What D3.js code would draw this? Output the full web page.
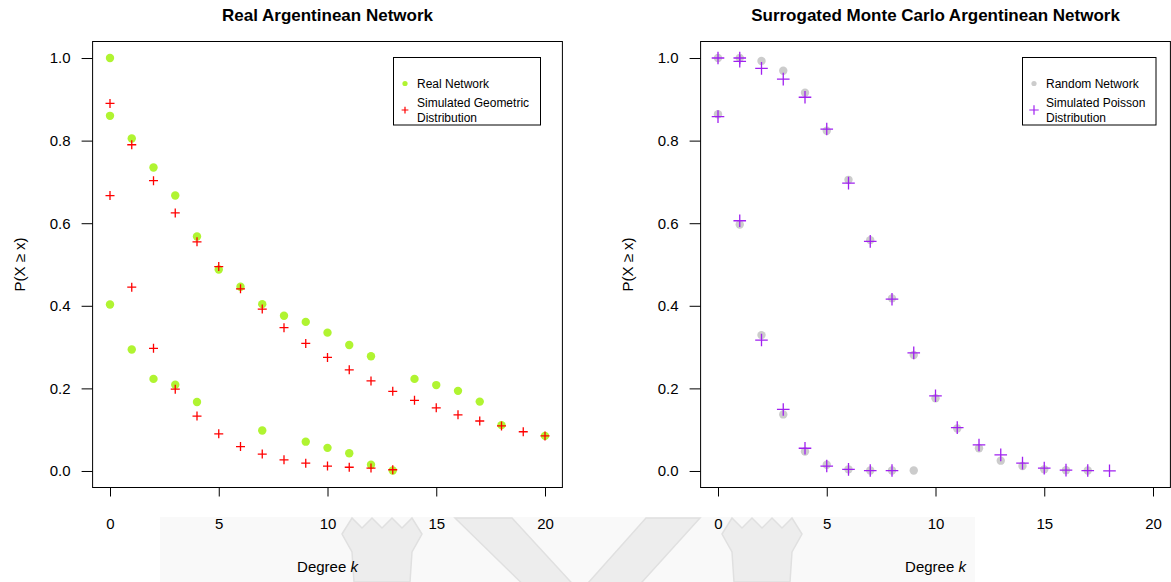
<!DOCTYPE html>
<html>
<head>
<meta charset="utf-8">
<script src="https://cdn.jsdelivr.net/npm/d3@7"></script>
<style>
  body { margin: 0; background: #fff; }
  svg { display: block; font-family: "Liberation Sans", Arial, Helvetica, sans-serif; }
</style>
</head>
<body>
<script>
// values indexed by degree k (0, 1, 2, ...); null = no point at that degree
const degreeTicks = [0, 5, 10, 15, 20];
const probTicks = [0, 0.2, 0.4, 0.6, 0.8, 1.0];

// left panel: real network and simulated geometric distribution
const realTop = [1.0];
const realUpper = [0.86, 0.805, 0.735, 0.667, 0.568, 0.488, 0.446, 0.404, 0.376, 0.361, 0.335, 0.305, 0.278, null, 0.223, 0.208, 0.194, 0.168, 0.111, null, 0.085];
const realLower = [0.403, 0.294, 0.223, 0.209, 0.167, null, null, 0.098, null, 0.071, 0.056, 0.043, 0.015, 0.001];
const geomUpper = [0.89, 0.79, 0.703, 0.625, 0.555, 0.495, 0.441, 0.392, 0.347, 0.309, 0.275, 0.245, 0.218, 0.193, 0.171, 0.153, 0.136, 0.121, 0.109, 0.095, 0.085];
const geomLower = [0.667, 0.445, 0.297, 0.198, 0.133, 0.090, 0.059, 0.041, 0.027, 0.019, 0.012, 0.009, 0.007, 0.003];

// right panel: random network and simulated poisson distribution
const randomUpper = [1.0, 1.0, 0.993, 0.969, 0.916, 0.824, 0.705, 0.559, 0.418, 0.281, 0.176, 0.103, 0.055, 0.025, 0.012, 0.004, 0.002, 0.001];
const randomLower = [0.864, 0.597, 0.329, 0.137, 0.047, 0.015, 0.004, 0.001, 0.001, 0.001];
const poissonTop = [null, 1.0];
const poissonUpper = [1.0, 0.992, 0.975, 0.949, 0.905, 0.828, 0.697, 0.556, 0.416, 0.286, 0.182, 0.105, 0.063, 0.039, 0.019, 0.007, 0.002, 0.001, 0.0005];
const poissonLower = [0.858, 0.606, 0.317, 0.149, 0.055, 0.012, 0.004, 0.001, 0.001];

const W = 1171, H = 582;
const svg = d3.select("body").append("svg").attr("width", W).attr("height", H);

// faint watermark behind everything
const wm = svg.append("g").attr("fill", "#ededed").attr("stroke", "#e0e0e0").attr("stroke-width", 1.5);
wm.append("rect").attr("x", 160).attr("y", 517).attr("width", 815).attr("height", 65)
  .attr("fill", "#f9f9f9").attr("stroke", "none");
wm.append("path").attr("d", "M455,518 L512,518 L580,592 L646,518 L700,518 L585,645 Z");
[[342, 518], [722, 518]].forEach(([cx, cy]) => {
  const s = 10;
  wm.append("path").attr("d",
    `M${cx},${cy + 16} L${cx + s},${cy} L${cx + 2 * s},${cy + 10} L${cx + 3 * s},${cy} L${cx + 4 * s},${cy + 10} L${cx + 5 * s},${cy} L${cx + 6 * s},${cy + 10} L${cx + 7 * s},${cy} L${cx + 8 * s},${cy + 16} L${cx + 70},${cy + 34} L${cx + 68},${H} L${cx + 12},${H} L${cx + 10},${cy + 34} Z`);
});

const toPoints = arr => arr.map((p, k) => ({ k, p })).filter(d => d.p != null);

const y = d3.scaleLinear().domain([-0.04, 1.04]).range([487.5, 41.5]);

function panel(opt) {
  const x = d3.scaleLinear().domain([-0.8, 20.8]).range([opt.left, opt.left + 469.8]);
  const g = svg.append("g");

  // x axis
  const xa = g.append("g").attr("transform", `translate(0, ${y.range()[0]})`)
    .call(d3.axisBottom(x).tickValues(degreeTicks).tickSize(9).tickPadding(22).tickFormat(d3.format("d")));
  xa.select(".domain").remove();
  xa.selectAll("text").attr("font-size", 15).attr("font-family", null).attr("fill", "#000");

  // y axis
  const ya = g.append("g").attr("transform", `translate(${opt.left}, 0)`)
    .call(d3.axisLeft(y).tickValues(probTicks).tickSize(11).tickPadding(11).tickFormat(d3.format(".1f")));
  ya.select(".domain").remove();
  ya.selectAll("text").attr("font-size", 15).attr("font-family", null).attr("fill", "#000");
  g.selectAll(".tick line").attr("stroke", "#000");

  // frame
  g.append("rect").attr("x", opt.left).attr("y", y.range()[1])
    .attr("width", 469.8).attr("height", y.range()[0] - y.range()[1])
    .attr("fill", "none").attr("stroke", "#000").attr("stroke-width", 1);

  // titles
  g.append("text").attr("x", x(10)).attr("y", 21).attr("text-anchor", "middle")
    .attr("font-size", 17).attr("font-weight", "bold").text(opt.title);
  const xt = g.append("text").attr("x", x(10)).attr("y", 572).attr("text-anchor", "middle").attr("font-size", 15);
  xt.append("tspan").text("Degree ");
  xt.append("tspan").attr("font-style", "italic").text("k");
  g.append("text").attr("transform", `translate(${opt.left - 68}, ${(y.range()[0] + y.range()[1]) / 2}) rotate(-90)`)
    .attr("text-anchor", "middle").attr("font-size", 15).text("P(X \u2265 x)");

  // dots then crosses
  opt.dots.forEach(arr => {
    g.append("g").selectAll("circle").data(toPoints(arr)).join("circle")
      .attr("cx", d => x(d.k)).attr("cy", d => y(d.p)).attr("r", 4.2).attr("fill", opt.dotColor);
  });
  const cross = s => `M${-s},0H${s}M0,${-s}V${s}`;
  opt.crosses.forEach(arr => {
    g.append("g").selectAll("path").data(toPoints(arr)).join("path")
      .attr("transform", d => `translate(${x(d.k)}, ${y(d.p)})`)
      .attr("d", cross(opt.crossSize)).attr("stroke", opt.crossColor).attr("stroke-width", 1.3).attr("fill", "none");
  });

  // legend
  const lg = g.append("g").attr("transform", `translate(${opt.legend[0]}, 57.5)`);
  lg.append("rect").attr("width", opt.legend[1]).attr("height", 67.5)
    .attr("fill", "#fff").attr("stroke", "#000").attr("stroke-width", 1);
  lg.append("circle").attr("cx", 11.5).attr("cy", 26).attr("r", 2.6).attr("fill", opt.dotColor);
  lg.append("path").attr("transform", "translate(11.5, 52.5)").attr("d", cross(opt.crossSize * 0.75))
    .attr("stroke", opt.crossColor).attr("stroke-width", 1.2);
  const lt = lg.append("g").attr("font-size", 12);
  lt.append("text").attr("x", 23.5).attr("y", 30).text(opt.labels[0]);
  lt.append("text").attr("x", 23.5).attr("y", 49).text(opt.labels[1]);
  lt.append("text").attr("x", 23.5).attr("y", 64).text("Distribution");
}

panel({
  left: 92.6,
  title: "Real Argentinean Network",
  dots: [realTop, realUpper, realLower], dotColor: "#b0f431",
  crosses: [geomUpper, geomLower], crossColor: "#ff0000", crossSize: 4.5,
  legend: [393.5, 147], labels: ["Real Network", "Simulated Geometric"]
});
panel({
  left: 700.6,
  title: "Surrogated Monte Carlo Argentinean Network",
  dots: [randomUpper, randomLower], dotColor: "#cccccc",
  crosses: [poissonTop, poissonUpper, poissonLower], crossColor: "#a020f0", crossSize: 6.3,
  legend: [1022.5, 133.5], labels: ["Random Network", "Simulated Poisson"]
});
</script>
</body>
</html>
